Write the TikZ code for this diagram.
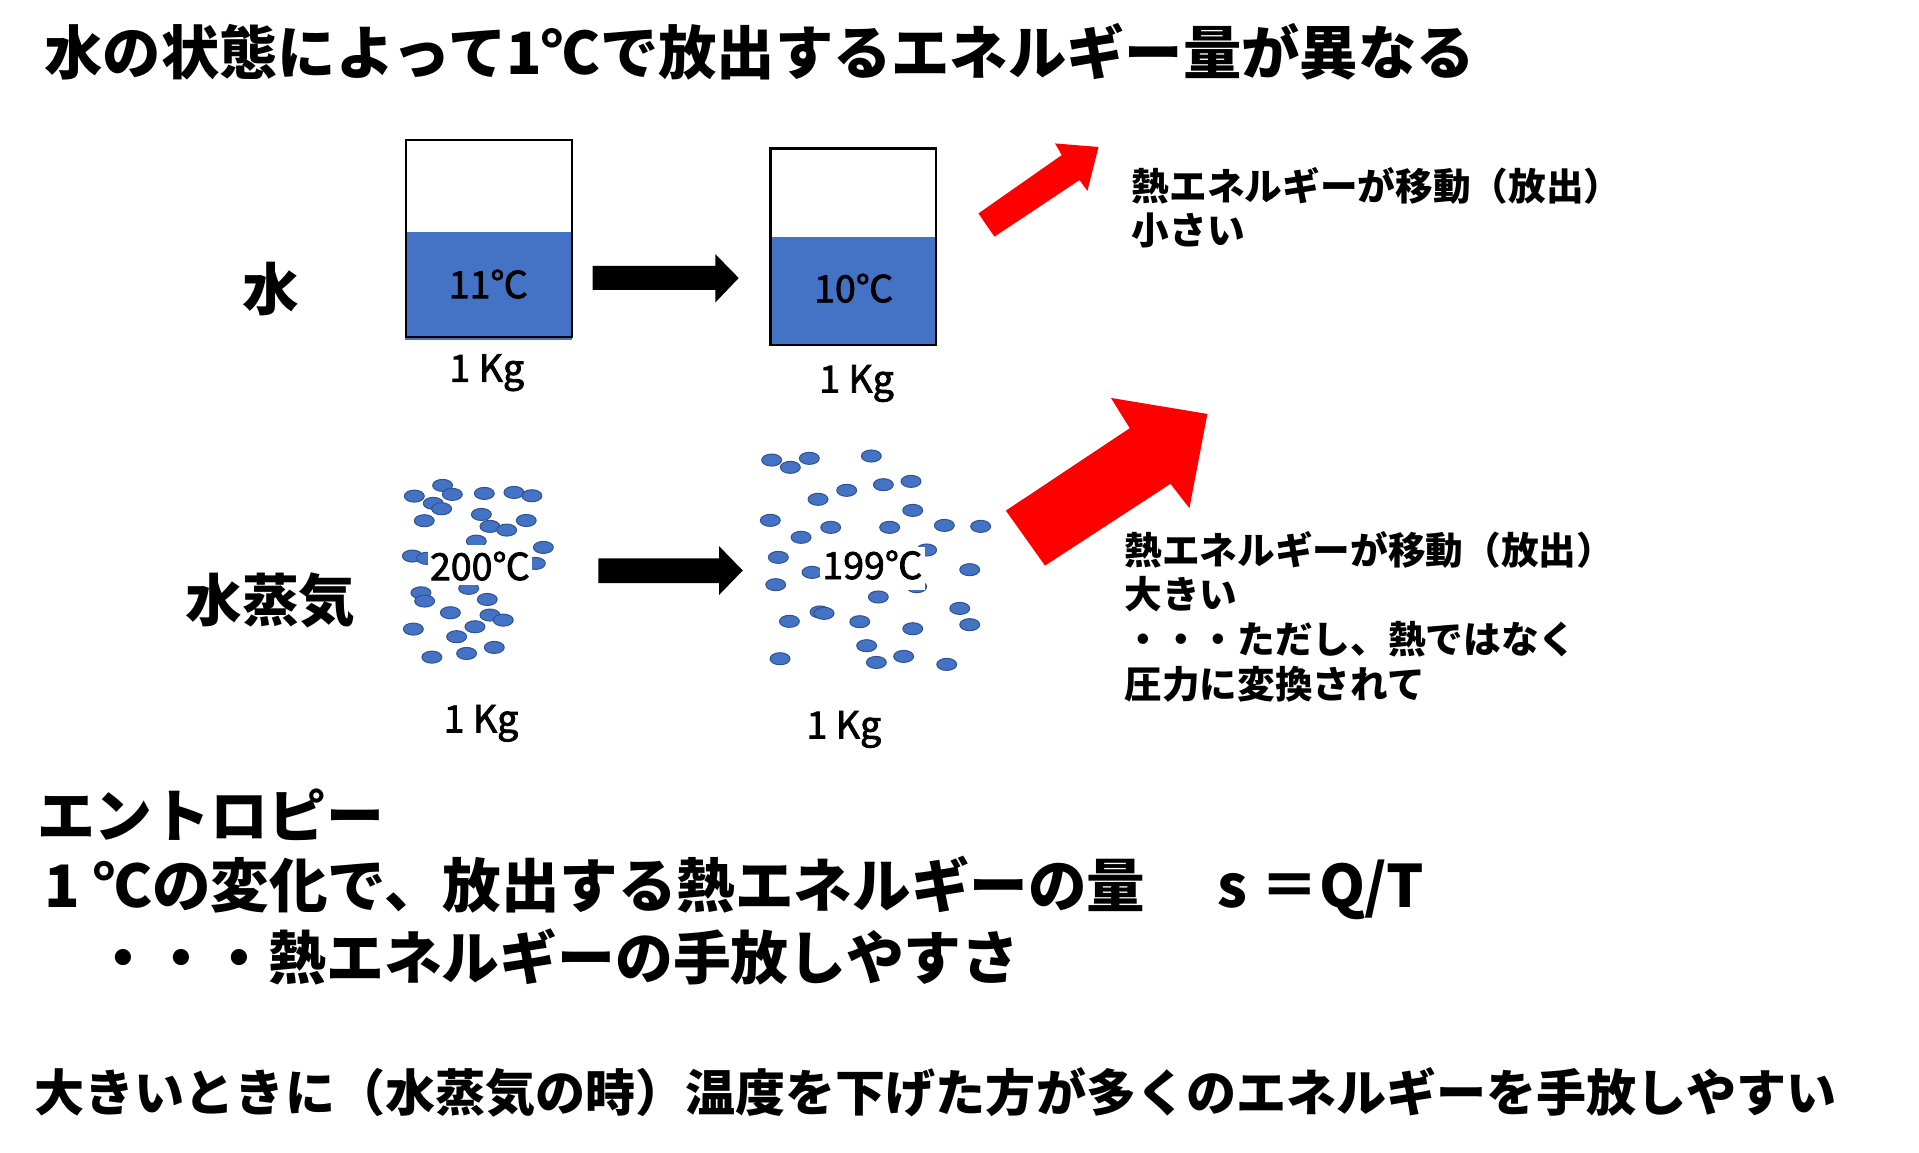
\documentclass[tikz,border=0pt]{standalone}
\usepackage{fontspec}
\setmainfont{Noto Sans CJK JP}
\newfontfamily\medfont{Noto Sans CJK JP}[BoldFont={Noto Sans CJK JP}, BoldFeatures={FakeBold=2}]
\definecolor{water}{HTML}{4472C4}
\definecolor{dotedge}{HTML}{2F528F}
\definecolor{arrowred}{HTML}{FF0000}
\begin{document}
\begin{tikzpicture}[x=1pt,y=-1pt,
  bold/.style={inner sep=0pt, anchor=west, font=\bfseries\fontsize{#1}{#1}\selectfont},
  boldc/.style={inner sep=0pt, font=\bfseries\fontsize{#1}{#1}\selectfont},
  lbl/.style={inner sep=0pt, font=\medfont\bfseries\fontsize{30.5}{30.5}\selectfont},
  drop/.style={fill=water, draw=dotedge, line width=0.8pt},
  redarrow/.style={fill=arrowred},
  blockarrow/.style={fill=black}]
\useasboundingbox (0,0) rectangle (1560,936.5);
\fill[white] (0,0) rectangle (1560,936.5);

% title
\node[bold=47.4] (title) at (36,42) {水の状態によって1℃で放出するエネルギー量が異なる};

% row labels
\node[boldc=46] (mizu) at (220,235) {水};
\node[boldc=46] (jouki) at (220,488) {水蒸気};

% beakers
\fill[water] (329.4,189) rectangle (464.6,276.6);
\draw[line width=2pt] (330,114) rectangle (465,274);
\fill[water] (626.4,192.3) rectangle (761.1,280.5);
\draw[line width=2pt] (626.4,120.6) rectangle (761.1,280.5);
\node[lbl] (t11) at (397,231) {11℃};
\node[lbl] (t10) at (694,234.3) {10℃};
\node[lbl] (kg1) at (395.7,303) {1 Kg};
\node[lbl] (kg2) at (696.3,311.8) {1 Kg};

% black arrows
\fill[blockarrow] (481.8,216.2) -- (581.5,216.2) -- (581.5,206.6) -- (600.5,226) -- (581.5,245.9) -- (581.5,235.7) -- (481.8,235.7) -- cycle;
\fill[blockarrow] (486.5,453.9) -- (584.6,453.9) -- (584.6,444) -- (603.8,463.8) -- (584.6,483.6) -- (584.6,474) -- (486.5,474) -- cycle;

% steam dots (left)
\foreach \x/\y in {336.8/403.3, 359.8/394.6, 367.7/401.9, 393.7/401.1, 417.8/400.3, 432.4/403,
  352.2/409.2, 359/413.6, 344.9/423.3, 391.3/418.2, 398.3/427.9, 411.9/430.9, 427.8/423.1,
  387.2/439.9, 441.7/445, 335.2/452, 346.8/453.9, 435.2/458, 381/478.3, 342.2/481.9,
  345.2/488.6, 396.1/487.3, 366.1/498.1, 398.3/500, 409.1/504.1, 336/511.4, 386.1/509.5,
  371.2/517.6, 401.8/526.3, 351.1/534.2, 379.3/531.2}
  \path[drop] (\x,\y) ellipse [x radius=8.1, y radius=4.9];
% steam dots (right)
\foreach \x/\y in {627.3/374, 642.5/379.9, 657.9/372.6, 708.3/370.7, 688.3/398.6, 718.1/394,
  740.6/391.3, 665/405.9, 742/414.9, 626.2/423, 675.3/428.7, 723.2/428.7, 767.7/427.1,
  797.2/427.9, 651.2/436.8, 632.7/453.1, 660.1/465.3, 753.3/447.1, 745.2/476.9, 788.3/463.1,
  630.6/475.3, 714/485.3, 666.6/497.5, 669.9/498.6, 641.7/505.1, 698.9/505.4, 742/511.1,
  780.2/494.6, 788.3/507.8, 704.5/524.9, 634.1/535.5, 712.4/538.5, 734.6/533.6, 769.6/540.1}
  \path[drop] (\x,\y) ellipse [x radius=8.1, y radius=4.9];

% temperature labels over steam
\fill[white] (348.2,443.1) rectangle (432.2,475.6);
\node[lbl] (t200) at (390.2,460.2) {200℃};
\fill[white] (666.6,444.4) rectangle (752,479.6);
\node[lbl] (t199) at (709.2,459.3) {199℃};
\node[lbl] (kg3) at (391,588) {1 Kg};
\node[lbl] (kg4) at (686,593) {1 Kg};

% red arrows
\fill[redarrow] (795.4,173.5) -- (863.1,126.1) -- (857.7,116.6) -- (893,119.5) -- (884.0,155.1) -- (877.5,146.4) -- (808.4,192.4) -- cycle;
\fill[redarrow] (817.7,415.1) -- (918.4,348.1) -- (903.1,323.5) -- (981.5,336.5) -- (966.9,413.1) -- (951.5,393.3) -- (849.5,459.8) -- cycle;

% right texts
\node[bold=30.6] (s1) at (920,151) {熱エネルギーが移動（放出）};
\node[bold=30.6] (s2) at (920,187.5) {小さい};
\node[bold=30.6] (b1) at (914,447) {熱エネルギーが移動（放出）};
\node[bold=30.6] (b2) at (914,483.3) {大きい};
\node[bold=30.6] (b3) at (914,519.6) {・・・ただし、熱ではなく};
\node[bold=30.6] (b4) at (914,556) {圧力に変換されて};

% entropy block
\node[bold=47] (ent) at (30,662) {エントロピー};
\node[bold=47.6] (def) at (36,722) {1 ℃の変化で、放出する熱エネルギーの量　 s ＝Q/T};
\node[bold=47] (ease) at (77,778) {・・・熱エネルギーの手放しやすさ};
\node[bold=40.7] (concl) at (28,888) {大きいときに（水蒸気の時）温度を下げた方が多くのエネルギーを手放しやすい};
\end{tikzpicture}
\end{document}
